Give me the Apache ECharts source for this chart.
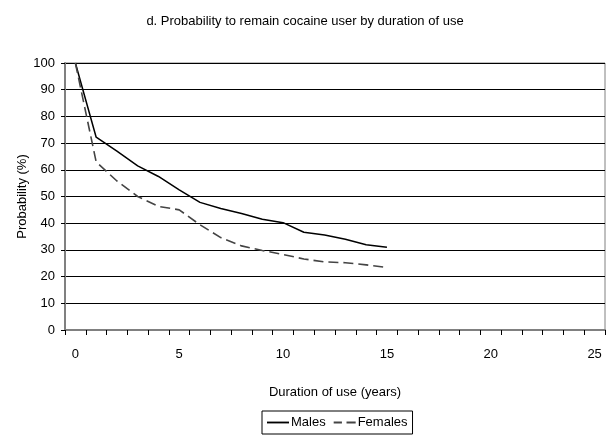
<!DOCTYPE html>
<html>
<head>
<meta charset="utf-8">
<script src="https://cdn.jsdelivr.net/npm/echarts@6/dist/echarts.min.js"></script>
<style>
html,body{margin:0;padding:0;background:#fff;}
#chart{width:610px;height:438px;}
</style>
</head>
<body>
<div id="chart"></div>
<script>
var categories = ['0','1','2','3','4','5','6','7','8','9','10','11','12','13','14','15','16','17','18','19','20','21','22','23','24','25'];
var males = [100, 72.2, 67, 61.5, 57.5, 52.5, 47.8, 45.5, 43.6, 41.5, 40.2, 36.6, 35.6, 34, 31.9, 31];
var females = [100, 63, 55.8, 50, 46.3, 45, 39.4, 34.6, 31.5, 29.8, 28.3, 26.6, 25.5, 25.2, 24.4, 23.4];
var yTicks = [0, 10, 20, 30, 40, 50, 60, 70, 80, 90, 100];

var FONT = "'Liberation Sans Narrow', 'Liberation Sans', Arial, sans-serif";
var chart = echarts.init(document.getElementById('chart'), null, {renderer: 'canvas'});
chart.setOption({
  animation: false,
  backgroundColor: '#fff',
  title: {
    text: 'd. Probability to remain cocaine user by duration of use',
    left: 'center',
    top: 10,
    textStyle: {fontFamily: FONT, fontSize: 13, fontWeight: 'normal', color: '#000'}
  },
  legend: {
    data: [
      {name: 'Males', icon: 'path://M0,0h24v2h-24z'},
      {name: 'Females', icon: 'path://M0,0h9v2h-9z M14,0h10v2h-10z'}
    ],
    left: 262,
    bottom: 4,
    orient: 'horizontal',
    itemWidth: 22,
    itemHeight: 2,
    itemGap: 8,
    borderColor: '#000',
    borderWidth: 1,
    borderRadius: 0,
    padding: [5, 5, 5, 5],
    textStyle: {fontFamily: FONT, fontSize: 13, color: '#000', padding: [0, 0, 0, -3]}
  },
  grid: {
    left: 65, right: 5, top: 63, bottom: 108,
    show: true, borderColor: '#808080', borderWidth: 1
  },
  xAxis: {
    type: 'category',
    data: categories,
    boundaryGap: true,
    name: 'Duration of use (years)',
    nameLocation: 'middle',
    nameGap: 56,
    nameMoveOverlap: false,
    nameTextStyle: {fontFamily: FONT, fontSize: 13, color: '#000'},
    axisLine: {lineStyle: {color: '#808080', width: 2}},
    axisTick: {show: true, interval: 0, alignWithLabel: false, length: 5, lineStyle: {color: '#000'}},
    axisLabel: {interval: 4, margin: 18, fontFamily: FONT, fontSize: 13, color: '#000'},
    splitLine: {show: false}
  },
  yAxis: {
    type: 'value',
    min: 0, max: 100, interval: 10,
    name: 'Probability (%)',
    nameLocation: 'middle',
    nameGap: 36,
    nameMoveOverlap: false,
    nameTextStyle: {fontFamily: FONT, fontSize: 13, color: '#000'},
    axisLine: {show: true, lineStyle: {color: '#808080', width: 2}},
    axisTick: {show: true, length: 4, lineStyle: {color: '#000'}},
    axisLabel: {margin: 10, fontFamily: FONT, fontSize: 13, color: '#000',
      formatter: function (v) { return yTicks.indexOf(v) >= 0 ? String(v) : ''; }},
    splitLine: {show: true, lineStyle: {color: '#000', width: 1}}
  },
  series: [
    {
      name: 'Males', type: 'line', data: males, symbol: 'none',
      lineStyle: {color: '#000', width: 1.5, type: 'solid'},
      itemStyle: {color: '#000'}
    },
    {
      name: 'Females', type: 'line', data: females, symbol: 'none',
      lineStyle: {color: '#444', width: 1.6, type: [10, 5]},
      itemStyle: {color: '#444'}
    }
  ]
});
</script>
</body>
</html>
